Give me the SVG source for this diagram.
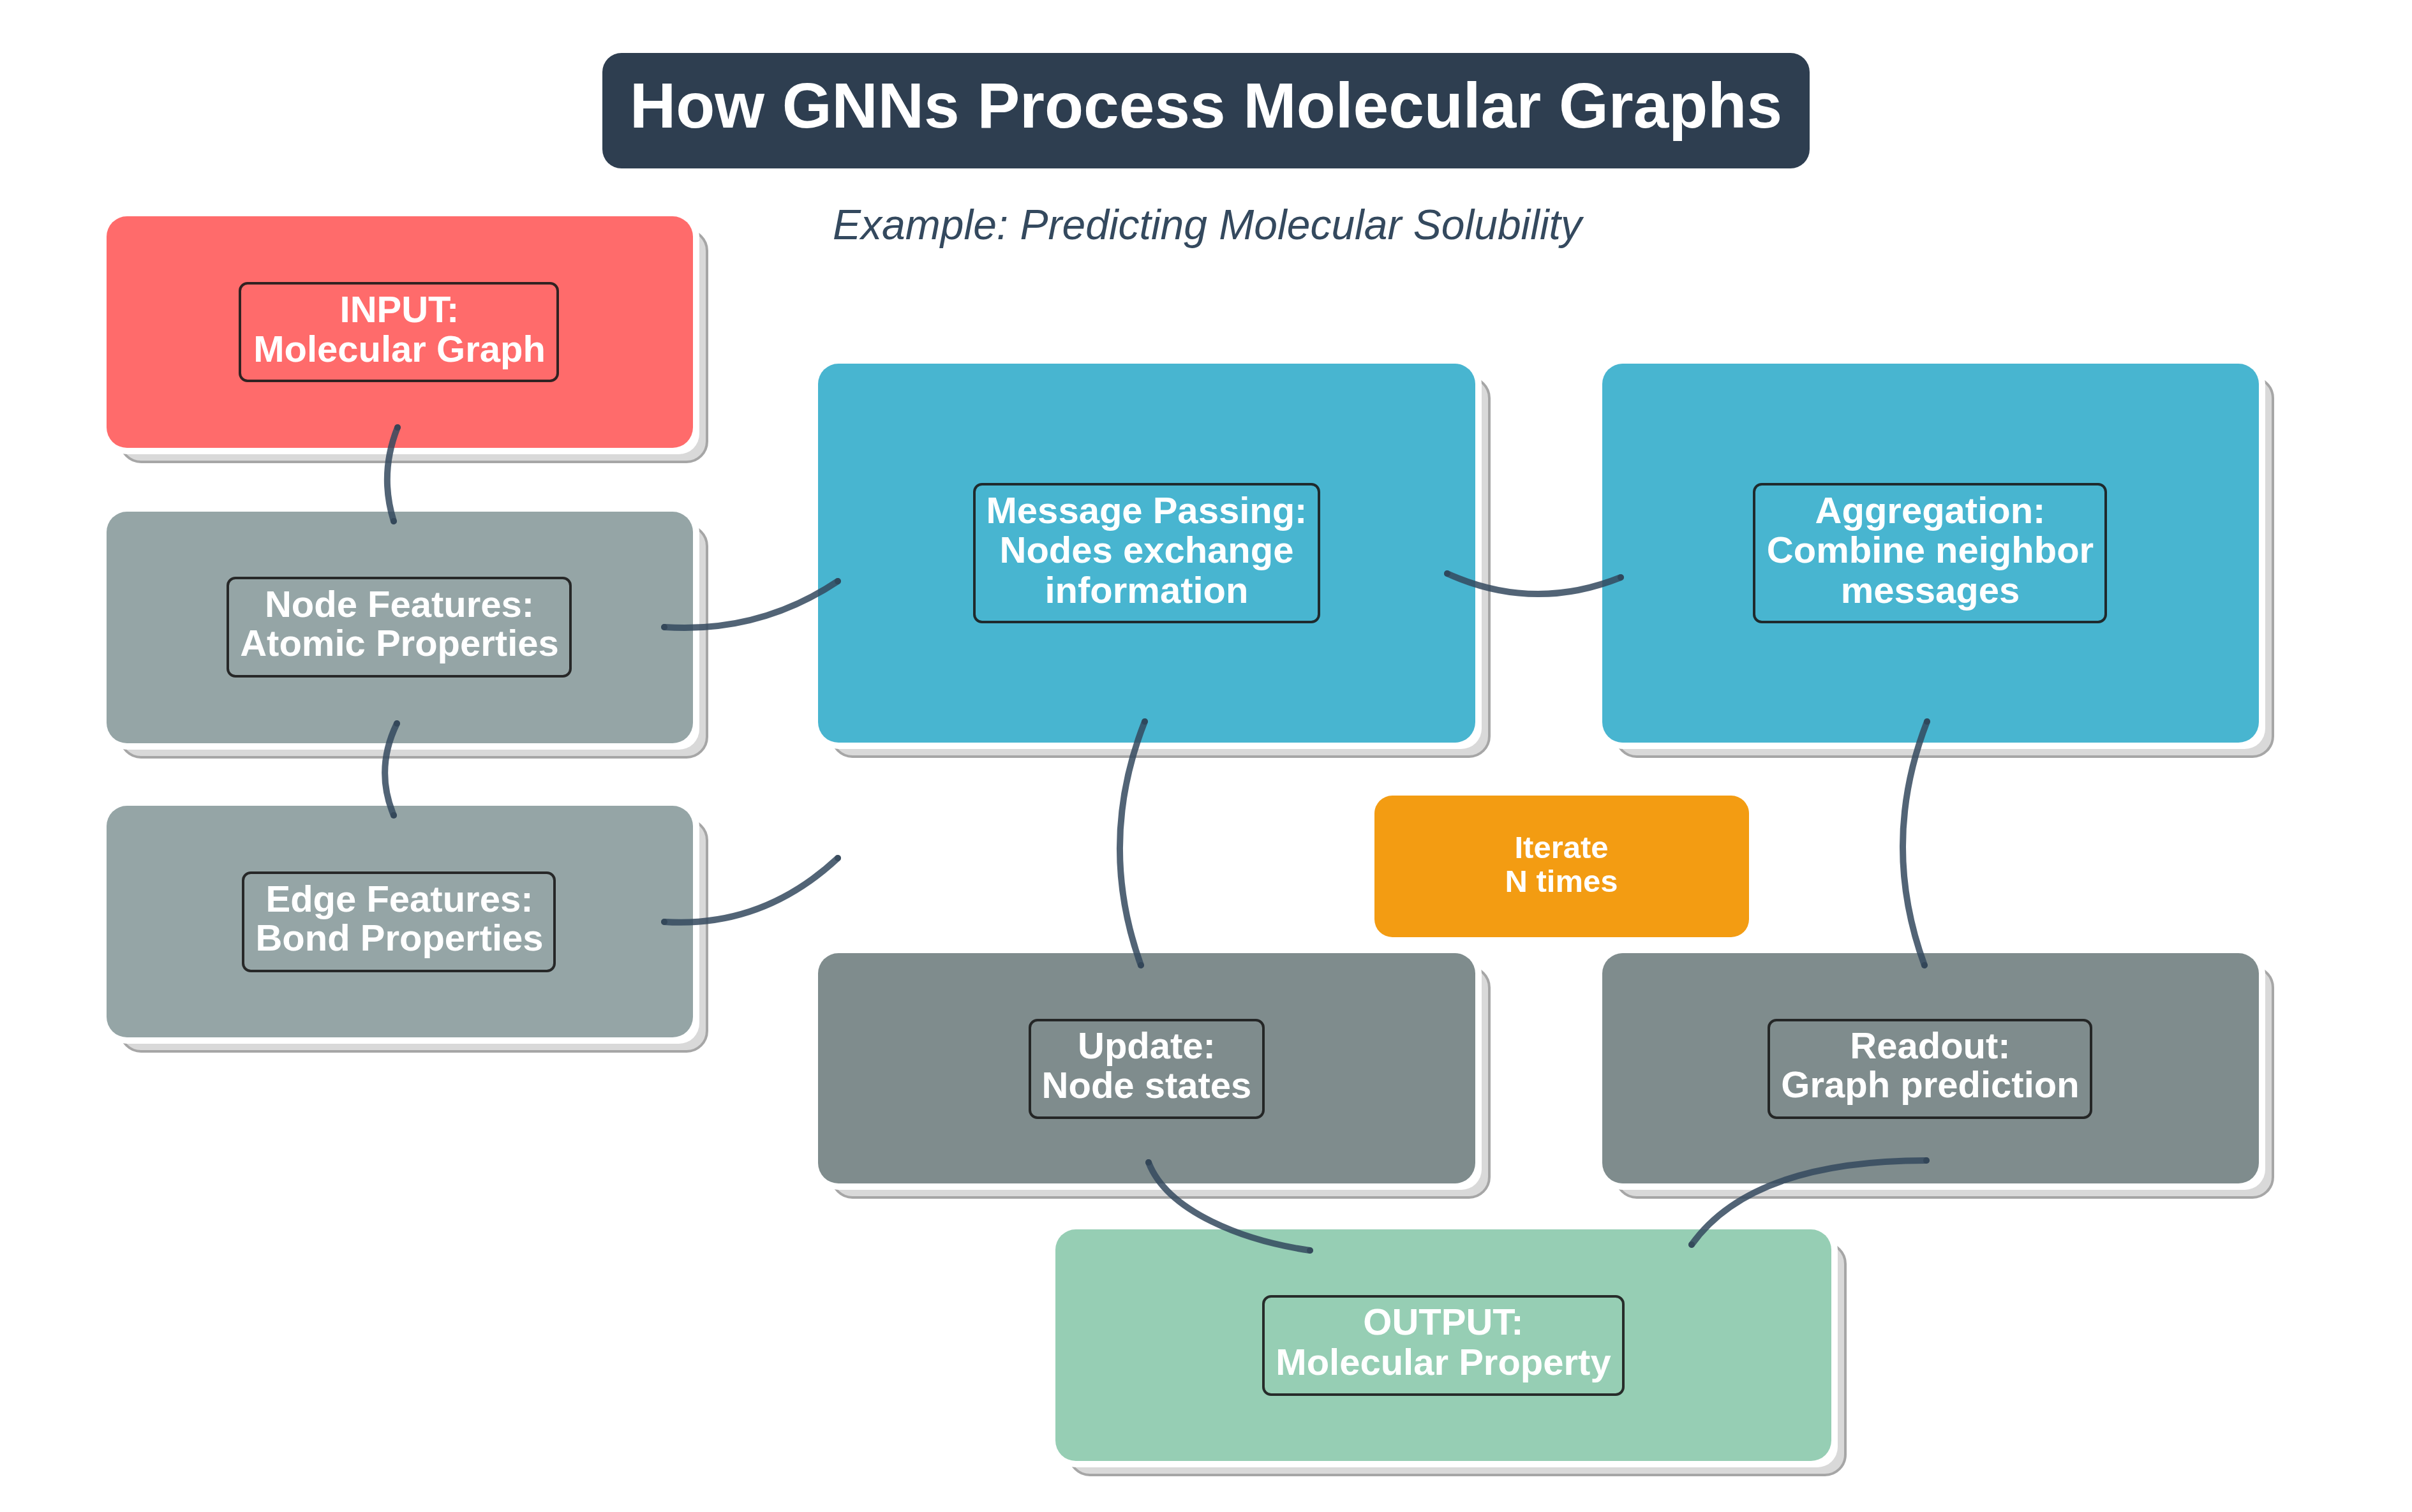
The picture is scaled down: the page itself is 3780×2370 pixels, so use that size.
<svg xmlns="http://www.w3.org/2000/svg" width="3780" height="2370" viewBox="0 0 3780 2370">
<defs>
<style>
.sh{fill:#d9d9d9;stroke:#a6a6a6;stroke-width:4}
.wb{fill:#ffffff}
.lb{fill:none;stroke:#1b1b1b;stroke-width:4;stroke-opacity:0.9}
.t{font-family:"Liberation Sans",Arial,sans-serif;font-weight:bold;font-size:58px;fill:#ffffff;text-anchor:middle}
.it{font-family:"Liberation Sans",Arial,sans-serif;font-weight:bold;font-size:49px;fill:#ffffff;text-anchor:middle}
.edge{fill:none;stroke:#34495e;stroke-opacity:0.85;stroke-width:10;stroke-linecap:round;marker-start:url(#dot);marker-end:url(#dot)}
</style>
<marker id="dot" viewBox="0 0 10 10" refX="5" refY="5" markerWidth="1" markerHeight="1" markerUnits="strokeWidth">
<circle cx="5" cy="5" r="5" fill="#2c3e50" fill-opacity="0.6"/>
</marker>
</defs>
<rect width="3780" height="2370" fill="#ffffff"/>

<g id="title">
<rect x="944" y="83" width="1892" height="181" rx="30" fill="#2e3e50"/>
<text x="1890" y="200" font-family="Liberation Sans,Arial,sans-serif" font-weight="bold" font-size="100" fill="#ffffff" text-anchor="middle">How GNNs Process Molecular Graphs</text>
</g>
<g id="subtitle">
<text x="1892" y="375" font-family="Liberation Sans,Arial,sans-serif" font-style="italic" font-size="66" fill="#34495e" text-anchor="middle">Example: Predicting Molecular Solubility</text>
</g>

<g id="input">
<rect class="sh" x="189" y="361" width="919" height="363" rx="32"/>
<rect class="wb" x="167" y="339" width="929" height="373" rx="32"/>
<rect x="167" y="339" width="919" height="363" rx="32" fill="#ff6b6b"/>
<rect class="lb" x="376" y="444" width="498" height="153" rx="12"/>
<text class="t" x="626" y="505">INPUT:</text>
<text class="t" x="626" y="567">Molecular Graph</text>
</g>

<g id="node-features">
<rect class="sh" x="189" y="824" width="919" height="363" rx="32"/>
<rect class="wb" x="167" y="802" width="929" height="373" rx="32"/>
<rect x="167" y="802" width="919" height="363" rx="32" fill="#95a5a6"/>
<rect class="lb" x="357" y="906" width="537" height="154" rx="12"/>
<text class="t" x="626" y="967">Node Features:</text>
<text class="t" x="626" y="1028">Atomic Properties</text>
</g>

<g id="edge-features">
<rect class="sh" x="189" y="1285" width="919" height="363" rx="32"/>
<rect class="wb" x="167" y="1263" width="929" height="373" rx="32"/>
<rect x="167" y="1263" width="919" height="363" rx="32" fill="#95a5a6"/>
<rect class="lb" x="381" y="1368" width="488" height="154" rx="12"/>
<text class="t" x="626" y="1429">Edge Features:</text>
<text class="t" x="626" y="1490">Bond Properties</text>
</g>

<g id="message-passing">
<rect class="sh" x="1304" y="592" width="1030" height="594" rx="32"/>
<rect class="wb" x="1282" y="570" width="1040" height="604" rx="32"/>
<rect x="1282" y="570" width="1030" height="594" rx="32" fill="#48b5d0"/>
<rect class="lb" x="1527" y="759" width="540" height="216" rx="12"/>
<text class="t" x="1797" y="820">Message Passing:</text>
<text class="t" x="1797" y="882">Nodes exchange</text>
<text class="t" x="1797" y="945">information</text>
</g>

<g id="aggregation">
<rect class="sh" x="2533" y="592" width="1029" height="594" rx="32"/>
<rect class="wb" x="2511" y="570" width="1039" height="604" rx="32"/>
<rect x="2511" y="570" width="1029" height="594" rx="32" fill="#48b5d0"/>
<rect class="lb" x="2749" y="759" width="551" height="216" rx="12"/>
<text class="t" x="3025" y="820">Aggregation:</text>
<text class="t" x="3025" y="882">Combine neighbor</text>
<text class="t" x="3025" y="945">messages</text>
</g>

<g id="iterate">
<rect x="2154" y="1247" width="587" height="222" rx="28" fill="#f39c12"/>
<text class="it" x="2447" y="1345">Iterate</text>
<text class="it" x="2447" y="1398">N times</text>
</g>

<g id="update">
<rect class="sh" x="1304" y="1516" width="1030" height="361" rx="32"/>
<rect class="wb" x="1282" y="1494" width="1040" height="371" rx="32"/>
<rect x="1282" y="1494" width="1030" height="361" rx="32" fill="#7f8c8d"/>
<rect class="lb" x="1614" y="1599" width="366" height="153" rx="12"/>
<text class="t" x="1797" y="1659">Update:</text>
<text class="t" x="1797" y="1721">Node states</text>
</g>

<g id="readout">
<rect class="sh" x="2533" y="1516" width="1029" height="361" rx="32"/>
<rect class="wb" x="2511" y="1494" width="1039" height="371" rx="32"/>
<rect x="2511" y="1494" width="1029" height="361" rx="32" fill="#7f8c8d"/>
<rect class="lb" x="2772" y="1599" width="505" height="153" rx="12"/>
<text class="t" x="3025" y="1659">Readout:</text>
<text class="t" x="3025" y="1720">Graph prediction</text>
</g>

<g id="output">
<rect class="sh" x="1676" y="1949" width="1216" height="363" rx="32"/>
<rect class="wb" x="1654" y="1927" width="1226" height="373" rx="32"/>
<rect x="1654" y="1927" width="1216" height="363" rx="32" fill="#96ceb4"/>
<rect class="lb" x="1980" y="2032" width="564" height="154" rx="12"/>
<text class="t" x="2262" y="2092">OUTPUT:</text>
<text class="t" x="2262" y="2155">Molecular Property</text>
</g>

<g id="connectors">
<path class="edge" d="M623,670 Q594,743 617,817"/>
<path class="edge" d="M622,1134 Q587,1206 617,1278"/>
<path class="edge" d="M1041,983 Q1190,993 1313,911"/>
<path class="edge" d="M1041,1445 Q1195,1455 1313,1345"/>
<path class="edge" d="M2268,899 Q2403,960 2540,905"/>
<path class="edge" d="M1794,1131 Q1719,1322 1788,1513"/>
<path class="edge" d="M3020,1131 Q2946,1322 3016,1513"/>
<path class="edge" d="M1800,1822 C1830,1900 1950,1945 2053,1960"/>
<path class="edge" d="M3019,1819 Q2745,1819 2651,1951"/>
</g>
</svg>
